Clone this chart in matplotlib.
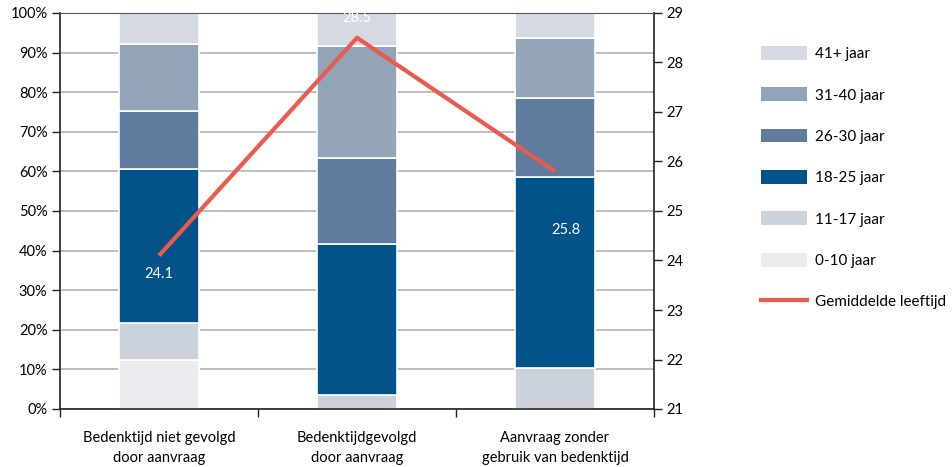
import matplotlib
matplotlib.use("Agg")
import matplotlib.pyplot as plt
import numpy as np
from matplotlib.patches import Patch
from matplotlib.lines import Line2D

plt.rcParams['font.family'] = ['Lato', 'DejaVu Sans']

categories = ["Bedenktijd niet gevolgd\ndoor aanvraag",
              "Bedenktijdgevolgd\ndoor aanvraag",
              "Aanvraag zonder\ngebruik van bedenktijd"]
age_groups = ["0-10 jaar", "11-17 jaar", "18-25 jaar", "26-30 jaar", "31-40 jaar", "41+ jaar"]
share_0_10 = [12.4, 0.0, 0.0]
share_11_17 = [9.4, 3.5, 10.3]
share_18_25 = [38.8, 38.2, 48.3]
share_26_30 = [14.7, 21.6, 19.9]
share_31_40 = [16.9, 28.4, 15.2]
share_41_plus = [7.8, 8.3, 6.3]
mean_age = [24.1, 28.5, 25.8]

colors = ["#eaecf0", "#cbd2dc", "#02538a", "#5f7b9e", "#93a3b8", "#d5dae2"]
line_color = "#eb5a4e"

fig = plt.figure(figsize=(9.52, 4.67), dpi=100)
ax = fig.add_axes([60/952, 58/467, 594/952, 396/467])
ax2 = ax.twinx()

x = np.arange(len(categories))
series = [share_0_10, share_11_17, share_18_25, share_26_30, share_31_40, share_41_plus]
bottom = np.zeros(len(categories))
for vals, col in zip(series, colors):
    vals = np.array(vals)
    ax.bar(x, vals, width=0.4, bottom=bottom, color=col, edgecolor="white",
           linewidth=1.2, zorder=2)
    bottom += vals

ax.set_xlim(-0.5, 2.5)
ax.set_ylim(0, 100)
ax.set_yticks(np.arange(0, 101, 10))
ax.set_yticklabels([f"{v}%" for v in range(0, 101, 10)])
ax.yaxis.grid(True, color="#b3b3b3", linewidth=1.2, zorder=0)
ax.set_axisbelow(True)
ax.set_xticks([-0.5, 0.5, 1.5, 2.5])
ax.set_xticklabels([])
ax.set_xticks(x, minor=True)
ax.set_xticklabels(categories, minor=True, fontsize=10.5, linespacing=1.5)
ax.tick_params(axis="x", which="minor", length=0, pad=16)
ax.tick_params(axis="x", which="major", length=6, width=1, direction="out", color="#222222")
ax.tick_params(axis="y", length=6, width=1, direction="out", color="#222222",
               labelsize=10.5, pad=3)
for s in ["left", "bottom", "right", "top"]:
    ax.spines[s].set_color("#222222")
    ax.spines[s].set_linewidth(1.2)
ax.spines["top"].set_linewidth(0.8)
ax.spines["top"].set_color("#555555")

ax2.set_ylim(21, 29)
ax2.set_yticks(np.arange(21, 30, 1))
ax2.tick_params(axis="y", length=6, width=1, direction="out", color="#222222",
                labelsize=10.5, pad=3)
for s in ["left", "bottom", "right", "top"]:
    ax2.spines[s].set_visible(False)
ax2.plot(x, mean_age, color=line_color, linewidth=3, zorder=5, solid_capstyle="butt")

offsets = [(0, -13), (0, 14), (8, -42)]
for xi, v, off in zip(x, mean_age, offsets):
    ax2.annotate(f"{v}", (xi, v), xytext=off, textcoords="offset points",
                 ha="center", va="center", color="white", fontsize=10.5)

handles = [Patch(facecolor=c, edgecolor="none") for c in colors[::-1]]
labels = age_groups[::-1]
handles.append(Line2D([0], [0], color=line_color, linewidth=3))
labels.append("Gemiddelde leeftijd")
fig.legend(handles, labels, loc="upper left", bbox_to_anchor=(755/952, 1 - 40/467),
           frameon=False, fontsize=11, handlelength=3.0, handleheight=1.0,
           labelspacing=1.72, handletextpad=0.5, borderaxespad=0)

fig.savefig("out.png", dpi=100)
